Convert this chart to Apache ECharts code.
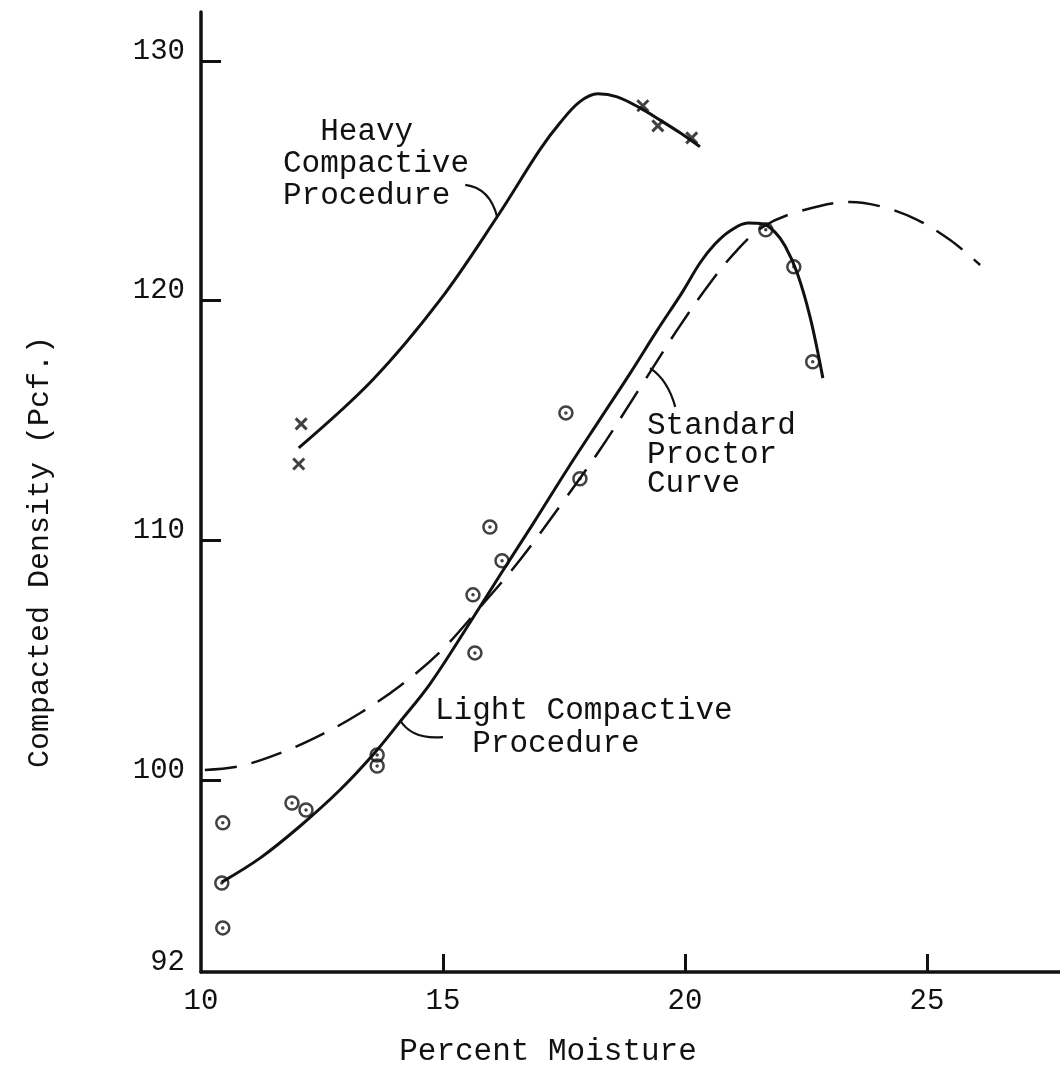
<!DOCTYPE html>
<html>
<head>
<meta charset="utf-8">
<script src="https://cdn.jsdelivr.net/npm/echarts@6/dist/echarts.min.js"></script>
<style>
html,body{margin:0;padding:0;background:#fff;}
#chart{width:1060px;height:1080px;}
</style>
</head>
<body>
<div id="chart"></div>
<script>
// ---- Data ----
// Heavy compactive procedure: test points (x marks)
const heavyPtsX = [12.07, 12.02, 19.13, 19.44, 20.14];
const heavyPtsY = [114.86, 113.19, 128.13, 127.29, 126.79];
// Heavy compactive procedure: fitted curve
const heavyCurveX = [12.02, 13.55, 14.94, 16.12, 17.00, 17.42, 17.83, 18.20, 18.60, 19.07, 19.48, 19.90, 20.31];
const heavyCurveY = [113.86, 116.70, 120.03, 123.50, 126.29, 127.42, 128.30, 128.63, 128.50, 128.04, 127.54, 127.00, 126.42];
// Light compactive procedure: test points (circles)
const lightPtsX = [10.45, 10.43, 10.45, 11.88, 12.17, 13.64, 13.64, 15.66, 15.62, 15.97, 16.22, 17.54, 17.83, 21.67, 22.25, 22.64];
const lightPtsY = [98.22, 95.71, 93.84, 99.05, 98.76, 101.05, 100.59, 105.31, 107.73, 110.56, 109.15, 115.32, 112.57, 122.96, 121.41, 117.45];
// Light compactive procedure: fitted curve
const lightCurveX = [10.43, 11.22, 12.05, 12.87, 13.55, 14.11, 14.73, 15.50, 16.18, 16.86, 17.56, 18.25, 18.87, 19.42, 19.96, 20.31, 20.62, 20.93, 21.30, 21.61, 21.86, 22.07, 22.32, 22.59, 22.85];
const lightCurveY = [95.75, 96.75, 98.09, 99.59, 101.05, 102.43, 104.01, 106.39, 108.56, 110.69, 112.94, 115.07, 116.98, 118.74, 120.40, 121.57, 122.36, 122.91, 123.24, 123.20, 122.86, 122.28, 121.15, 119.28, 116.77];
// Standard Proctor curve (dashed)
const proctorX = [10.08, 10.81, 11.70, 12.52, 13.29, 14.11, 14.94, 15.77, 16.59, 17.42, 18.24, 19.07, 19.84, 20.52, 21.08, 21.61, 22.32, 23.41, 24.09, 24.80, 25.48, 26.10];
const proctorY = [100.43, 100.59, 101.18, 101.93, 102.80, 103.93, 105.35, 107.22, 109.18, 111.44, 113.77, 116.36, 118.78, 120.74, 122.11, 123.08, 123.70, 124.12, 123.91, 123.37, 122.53, 121.49];
// Axis ticks / labels
const xTickLabels = [10, 15, 20, 25];
const xTicks = [15, 20, 25];
const yTickLabels = [92, 100, 110, 120, 130];
const yTicks = [100, 110, 120, 130];
const xTitle = 'Percent Moisture';
const yTitle = 'Compacted Density (Pcf.)';
const heavyLabel = '  Heavy\nCompactive\nProcedure';
const lightLabel = 'Light Compactive\n  Procedure';
const proctorLabel = 'Standard\nProctor\nCurve';

const zip = (a, b) => a.map((v, i) => [v, b[i]]);
const FONT = 'Liberation Mono';
const INK = '#111';

const chart = echarts.init(document.getElementById('chart'), null, {renderer: 'canvas'});
const option = {
  backgroundColor: '#fff',
  animation: false,
  grid: {left: 201, right: 0, top: 12, bottom: 108},
  xAxis: {
    type: 'value', min: 10, max: 27.75,
    axisLine: {show: true, lineStyle: {color: INK, width: 3.5}},
    axisTick: {show: true, inside: true, length: 18, customValues: xTicks, lineStyle: {color: INK, width: 3}},
    axisLabel: {customValues: xTickLabels, fontFamily: FONT, fontSize: 29, color: INK, margin: 14, lineHeight: 30, verticalAlign: 'top'},
    splitLine: {show: false}
  },
  yAxis: {
    type: 'value', min: 92, max: 132.04,
    axisLine: {show: true, lineStyle: {color: INK, width: 3.5}},
    axisTick: {show: true, inside: true, length: 20, customValues: yTicks, lineStyle: {color: INK, width: 3}},
    axisLabel: {customValues: yTickLabels, fontFamily: FONT, fontSize: 29, color: INK, margin: 16, lineHeight: 20, verticalAlign: 'bottom'},
    splitLine: {show: false}
  },
  series: [
    {type: 'line', data: zip(proctorX, proctorY), smooth: 0.35, showSymbol: false, silent: true,
     lineStyle: {color: INK, width: 2.5, type: [32, 15]}, z: 2},
    {type: 'line', data: zip(heavyCurveX, heavyCurveY), smooth: 0.35, showSymbol: false, silent: true,
     lineStyle: {color: INK, width: 3}, z: 3},
    {type: 'line', data: zip(lightCurveX, lightCurveY), smooth: 0.35, showSymbol: false, silent: true,
     lineStyle: {color: INK, width: 3}, z: 3},
    {type: 'scatter', data: zip(lightPtsX, lightPtsY), symbol: 'circle', symbolSize: 13, silent: true,
     itemStyle: {color: 'rgba(255,255,255,0)', borderColor: INK, borderWidth: 2.5}, z: 4},
    {type: 'scatter', data: zip(lightPtsX, lightPtsY), symbol: 'circle', symbolSize: 3.5, silent: true,
     itemStyle: {color: INK}, z: 5},
    {type: 'scatter', data: zip(heavyPtsX, heavyPtsY), symbol: 'path://M0,0L10,10M10,0L0,10', symbolSize: 11, silent: true,
     itemStyle: {color: INK, borderColor: INK, borderWidth: 3}, z: 5}
  ]
};
chart.setOption(option);

// Annotations: leader lines anchored on data-space points, text placed in layout pixels
const px = (x, y) => chart.convertToPixel({gridIndex: 0}, [x, y]);
function leader(startData, endData, cpData) {
  const s = px(startData[0], startData[1]);
  const e = px(endData[0], endData[1]);
  const c = px(cpData[0], cpData[1]);
  return {type: 'bezierCurve', silent: true, z: 10,
    shape: {x1: s[0], y1: s[1], x2: e[0], y2: e[1], cpx1: c[0], cpy1: c[1]},
    style: {stroke: INK, lineWidth: 2.2, fill: null}};
}
function txt(left, top, text, lh) {
  return {type: 'text', left: left, top: top, silent: true, z: 10,
    style: {text: text, font: '31px "' + FONT + '"', fill: INK, lineHeight: lh, textAlign: 'left'}};
}
chart.setOption({
  graphic: [
    txt(283, 116, heavyLabel, 32),
    txt(435, 694, lightLabel, 33),
    txt(647, 410, proctorLabel, 29),
    leader([15.46, 124.83], [16.12, 123.49], [15.97, 124.70]),
    leader([14.11, 102.51], [15.00, 101.80], [14.36, 101.68]),
    leader([19.28, 117.19], [19.80, 115.57], [19.65, 116.69]),
    {type: 'text', x: 40, y: 552, rotation: Math.PI / 2, silent: true,
     style: {text: yTitle, font: '30px "' + FONT + '"', fill: INK, textAlign: 'center', textVerticalAlign: 'middle'}},
    {type: 'text', x: 548, y: 1052, silent: true,
     style: {text: xTitle, font: '31px "' + FONT + '"', fill: INK, textAlign: 'center', textVerticalAlign: 'middle'}}
  ]
});
</script>
</body>
</html>
